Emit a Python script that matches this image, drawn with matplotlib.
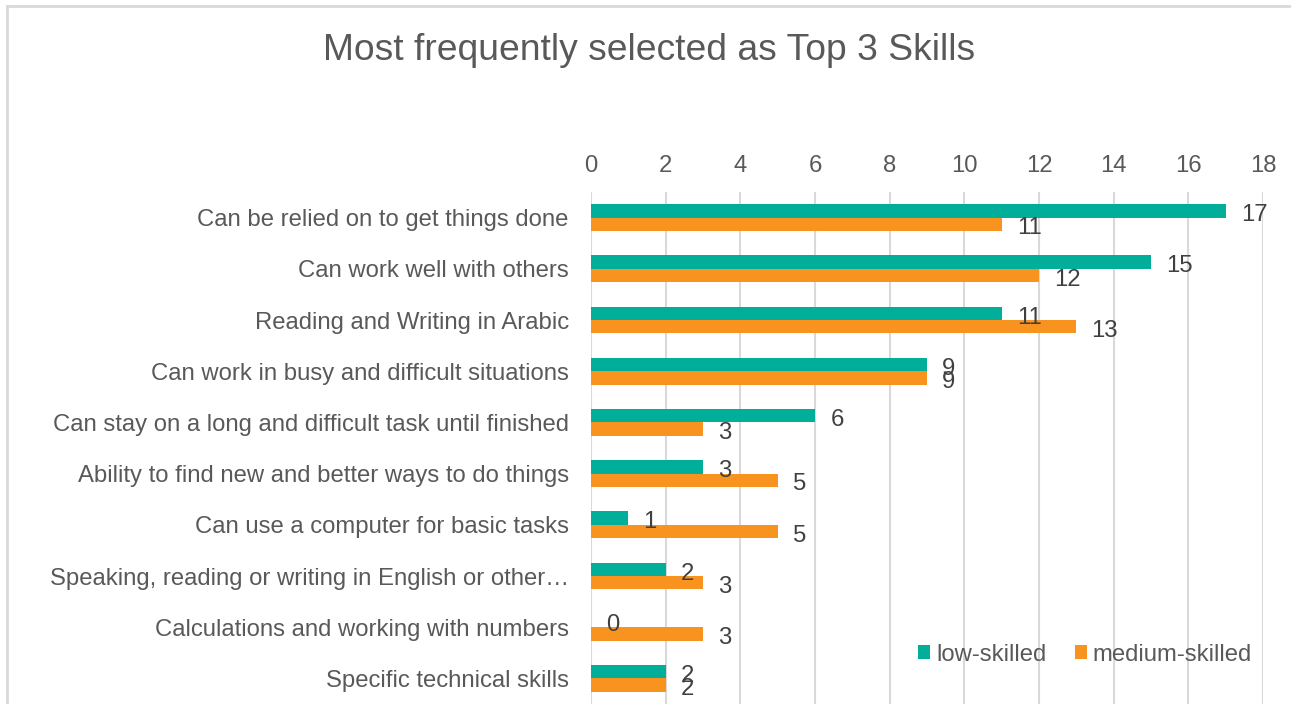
import matplotlib
matplotlib.use("Agg")
import matplotlib.pyplot as plt
from matplotlib.lines import Line2D
import numpy as np

plt.rcParams['font.family'] = ['Liberation Sans', 'DejaVu Sans']

categories = [
    "Can be relied on to get things done",
    "Can work well with others",
    "Reading and Writing in Arabic",
    "Can work in busy and difficult situations",
    "Can stay on a long and difficult task until finished",
    "Ability to find new and better ways to do things",
    "Can use a computer for basic tasks",
    "Speaking, reading or writing in English or other\u2026",
    "Calculations and working with numbers",
    "Specific technical skills",
]
low_skilled = [17, 15, 11, 9, 6, 3, 1, 2, 0, 2]
medium_skilled = [11, 12, 13, 9, 3, 5, 5, 3, 3, 2]
xticks = [0, 2, 4, 6, 8, 10, 12, 14, 16, 18]

TEAL = '#00AE9A'
ORANGE = '#F7931E'
TXT = '#595959'
GRID = '#D9D9D9'
FS = 17.2

W, H = 1291, 704
fig = plt.figure(figsize=(W / 100, H / 100), dpi=100)
ax = fig.add_axes([591 / W, 0, (1263 - 591) / W, (704 - 192) / H])

n = len(categories)
y = np.arange(n)
bh = 0.26
ax.barh(y - bh / 2, low_skilled, height=bh, color=TEAL, label='low-skilled', zorder=3)
ax.barh(y + bh / 2, medium_skilled, height=bh, color=ORANGE, label='medium-skilled', zorder=3)

for yi, v in zip(y, low_skilled):
    ax.annotate(str(v), (v, yi - bh / 2), xytext=(11, -3), textcoords='offset points',
                ha='left', va='center', fontsize=FS, color='#404040')
for yi, v in zip(y, medium_skilled):
    ax.annotate(str(v), (v, yi + bh / 2), xytext=(11, -3), textcoords='offset points',
                ha='left', va='center', fontsize=FS, color='#404040')

ax.set_ylim(n - 0.5, -0.5)
ax.set_xlim(0, 18)
ax.set_xticks(xticks)
ax.set_yticks(y)
ax.set_yticklabels(categories)
ax.xaxis.tick_top()
ax.tick_params(axis='x', length=0, pad=10.5, labelsize=FS, labelcolor=TXT)
ax.tick_params(axis='y', length=0, pad=16, labelsize=FS, labelcolor=TXT)
for s in ax.spines.values():
    s.set_visible(False)
ax.grid(axis='x', color=GRID, linewidth=1.5, zorder=0)
ax.set_axisbelow(True)

leg = ax.legend(loc='lower right', bbox_to_anchor=(0.9975, 0.056), ncol=2, frameon=False,
                fontsize=FS, handlelength=0.5, handleheight=0.5, handletextpad=0.25,
                columnspacing=1.17, borderaxespad=0)
for t in leg.get_texts():
    t.set_color(TXT)

fig.text(649 / W, 1 - 51 / H, "Most frequently selected as Top 3 Skills", ha='center', va='center',
         fontsize=26.8, color=TXT)

fig.add_artist(Line2D([7 / W, 7 / W], [0, 1 - 6 / H], transform=fig.transFigure, color=GRID, linewidth=2))
fig.add_artist(Line2D([7 / W, 1], [1 - 6 / H, 1 - 6 / H], transform=fig.transFigure, color=GRID, linewidth=2))

fig.savefig('out.png', dpi=100, facecolor='white')
